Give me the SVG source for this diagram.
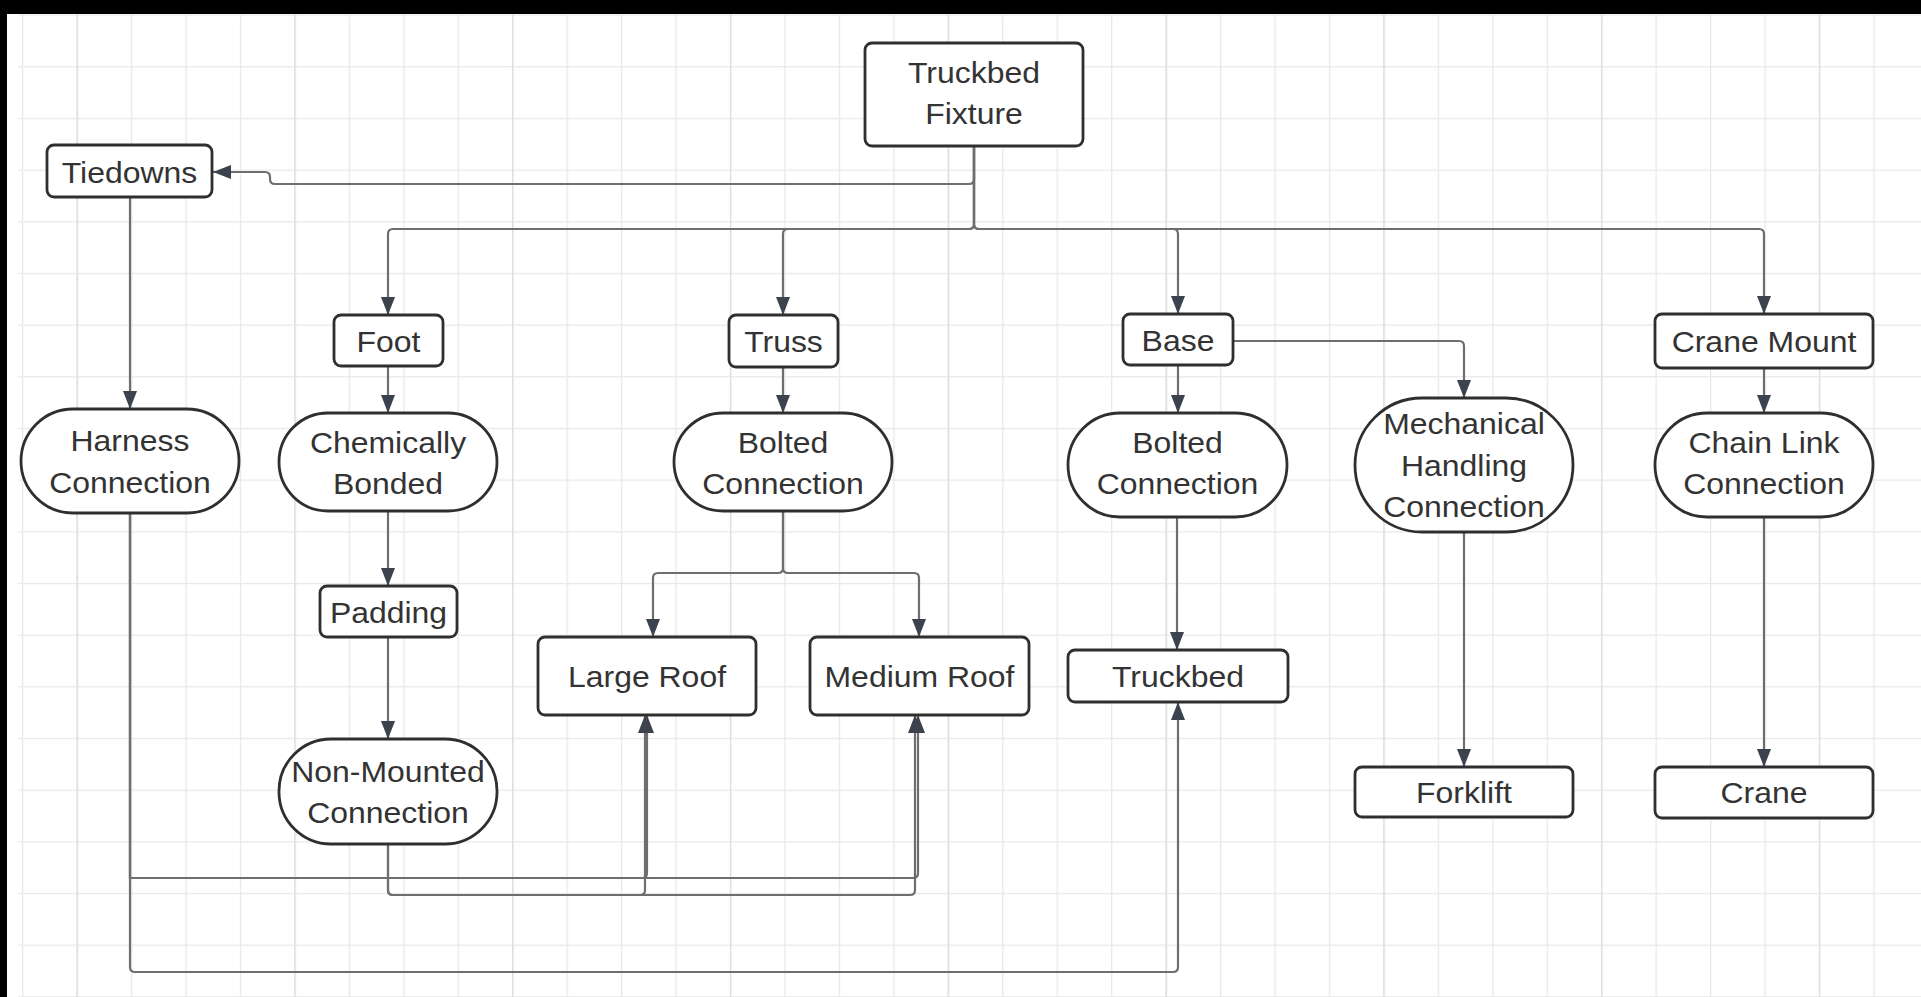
<svg xmlns="http://www.w3.org/2000/svg" width="1921" height="997" viewBox="0 0 1921 997">
<style>
.node{fill:#fff;stroke:#2f2f2f;stroke-width:2.8}
.lbl{font-family:"Liberation Sans",Arial,sans-serif;font-size:30.3px;fill:#333;text-anchor:middle}
.conn{fill:none;stroke:#6e6e6e;stroke-width:2.2}
</style>
<defs>
<pattern id="grid" patternUnits="userSpaceOnUse" x="76.5" y="14.5" width="54.45" height="51.67">
<path d="M0.5,0 V51.67 M0,0.5 H54.45" fill="none" stroke="#e8e8e8" stroke-width="1.6"/>
</pattern>
<pattern id="gridmajor" patternUnits="userSpaceOnUse" x="76.5" y="0" width="217.8" height="997">
<path d="M0.5,0 V997" fill="none" stroke="#dedede" stroke-width="1.6"/>
</pattern>
<marker id="arr" markerUnits="userSpaceOnUse" markerWidth="20" markerHeight="14" refX="18" refY="7" orient="auto">
<path d="M0,0 L18,7 L0,14 Z" fill="#3c424e"/>
</marker>
</defs>
<rect x="0" y="0" width="1921" height="997" fill="#fff"/>
<rect x="18" y="14" width="1903" height="983" fill="url(#grid)"/>
<rect x="18" y="14" width="1903" height="983" fill="url(#gridmajor)"/>
<rect x="0" y="0" width="1921" height="14" fill="#000"/>
<rect x="0" y="0" width="7" height="997" fill="#000"/>

<g id="connectors">
<path class="conn" marker-end="url(#arr)" d="M974,146 V179 Q974,184 969,184 H275 Q270,184 270,179 V177 Q270,172 265,172 H213"/>
<path class="conn" marker-end="url(#arr)" d="M974,146 V224 Q974,229 969,229 H393 Q388,229 388,234 V315"/>
<path class="conn" marker-end="url(#arr)" d="M974,146 V224 Q974,229 969,229 H788 Q783,229 783,234 V315"/>
<path class="conn" marker-end="url(#arr)" d="M974,146 V224 Q974,229 979,229 H1173 Q1178,229 1178,234 V314"/>
<path class="conn" marker-end="url(#arr)" d="M974,146 V224 Q974,229 979,229 H1759 Q1764,229 1764,234 V314"/>
<path class="conn" marker-end="url(#arr)" d="M130,197 V409"/>
<path class="conn" marker-end="url(#arr)" d="M388,366 V413"/>
<path class="conn" marker-end="url(#arr)" d="M783,367 V413"/>
<path class="conn" marker-end="url(#arr)" d="M1178,365 V413"/>
<path class="conn" marker-end="url(#arr)" d="M1233,341 H1459 Q1464,341 1464,346 V398"/>
<path class="conn" marker-end="url(#arr)" d="M1764,368 V413"/>
<path class="conn" marker-end="url(#arr)" d="M388,511 V586"/>
<path class="conn" marker-end="url(#arr)" d="M388,637 V739"/>
<path class="conn" marker-end="url(#arr)" d="M783,511 V568 Q783,573 778,573 H658 Q653,573 653,578 V637"/>
<path class="conn" marker-end="url(#arr)" d="M783,511 V568 Q783,573 788,573 H914 Q919,573 919,578 V637"/>
<path class="conn" marker-end="url(#arr)" d="M1177,517 V650"/>
<path class="conn" marker-end="url(#arr)" d="M1464,532 V767"/>
<path class="conn" marker-end="url(#arr)" d="M1764,517 V767"/>
<path class="conn" marker-end="url(#arr)" d="M130,514 V878 H642 Q647,878 647,873 V715"/>
<path class="conn" marker-end="url(#arr)" d="M130,514 V878 H913 Q918,878 918,873 V715"/>
<path class="conn" marker-end="url(#arr)" d="M130,514 V967 Q130,972 135,972 H1173 Q1178,972 1178,967 V702"/>
<path class="conn" marker-end="url(#arr)" d="M388,844 V890 Q388,895 393,895 H640 Q645,895 645,890 V715"/>
<path class="conn" marker-end="url(#arr)" d="M388,844 V890 Q388,895 393,895 H910 Q915,895 915,890 V715"/>
</g>

<g id="fixture"><rect class="node" x="865" y="43" width="218" height="103" rx="7"/>
<text class="lbl" transform="translate(974,0) scale(1.055 1)" x="0" y="83">Truckbed</text>
<text class="lbl" transform="translate(974,0) scale(1.055 1)" x="0" y="124">Fixture</text></g>

<g id="tiedowns"><rect class="node" x="47" y="145" width="165" height="52" rx="7"/>
<text class="lbl" transform="translate(129.5,0) scale(1.055 1)" x="0" y="183">Tiedowns</text></g>

<g id="foot"><rect class="node" x="334" y="315" width="109" height="51" rx="7"/>
<text class="lbl" transform="translate(388.5,0) scale(1.055 1)" x="0" y="352">Foot</text></g>

<g id="truss"><rect class="node" x="729" y="315" width="109" height="52" rx="7"/>
<text class="lbl" transform="translate(783.5,0) scale(1.055 1)" x="0" y="352">Truss</text></g>

<g id="base"><rect class="node" x="1123" y="314" width="110" height="51" rx="7"/>
<text class="lbl" transform="translate(1178,0) scale(1.055 1)" x="0" y="351">Base</text></g>

<g id="crane-mount"><rect class="node" x="1655" y="314" width="218" height="54" rx="7"/>
<text class="lbl" transform="translate(1764,0) scale(1.055 1)" x="0" y="352">Crane Mount</text></g>

<g id="harness"><rect class="node" x="21" y="409" width="218" height="104" rx="52"/>
<text class="lbl" transform="translate(130,0) scale(1.055 1)" x="0" y="451">Harness</text>
<text class="lbl" transform="translate(130,0) scale(1.055 1)" x="0" y="493">Connection</text></g>

<g id="chemically-bonded"><rect class="node" x="279" y="413" width="218" height="98" rx="49"/>
<text class="lbl" transform="translate(388,0) scale(1.055 1)" x="0" y="453">Chemically</text>
<text class="lbl" transform="translate(388,0) scale(1.055 1)" x="0" y="494">Bonded</text></g>

<g id="bolted-truss"><rect class="node" x="674" y="413" width="218" height="98" rx="49"/>
<text class="lbl" transform="translate(783,0) scale(1.055 1)" x="0" y="453">Bolted</text>
<text class="lbl" transform="translate(783,0) scale(1.055 1)" x="0" y="494">Connection</text></g>

<g id="bolted-base"><rect class="node" x="1068" y="413" width="219" height="104" rx="52"/>
<text class="lbl" transform="translate(1177.5,0) scale(1.055 1)" x="0" y="453">Bolted</text>
<text class="lbl" transform="translate(1177.5,0) scale(1.055 1)" x="0" y="494">Connection</text></g>

<g id="mechanical"><rect class="node" x="1355" y="398" width="218" height="134" rx="67"/>
<text class="lbl" transform="translate(1464,0) scale(1.055 1)" x="0" y="434">Mechanical</text>
<text class="lbl" transform="translate(1464,0) scale(1.055 1)" x="0" y="476">Handling</text>
<text class="lbl" transform="translate(1464,0) scale(1.055 1)" x="0" y="517">Connection</text></g>

<g id="chain-link"><rect class="node" x="1655" y="413" width="218" height="104" rx="52"/>
<text class="lbl" transform="translate(1764,0) scale(1.055 1)" x="0" y="453">Chain Link</text>
<text class="lbl" transform="translate(1764,0) scale(1.055 1)" x="0" y="494">Connection</text></g>

<g id="padding"><rect class="node" x="320" y="586" width="137" height="51" rx="7"/>
<text class="lbl" transform="translate(388.5,0) scale(1.055 1)" x="0" y="623">Padding</text></g>

<g id="large-roof"><rect class="node" x="538" y="637" width="218" height="78" rx="7"/>
<text class="lbl" transform="translate(647,0) scale(1.055 1)" x="0" y="687">Large Roof</text></g>

<g id="medium-roof"><rect class="node" x="810" y="637" width="219" height="78" rx="7"/>
<text class="lbl" transform="translate(919.5,0) scale(1.055 1)" x="0" y="687">Medium Roof</text></g>

<g id="truckbed"><rect class="node" x="1068" y="650" width="220" height="52" rx="7"/>
<text class="lbl" transform="translate(1178,0) scale(1.055 1)" x="0" y="687">Truckbed</text></g>

<g id="non-mounted"><rect class="node" x="279" y="739" width="218" height="105" rx="52"/>
<text class="lbl" transform="translate(388,0) scale(1.055 1)" x="0" y="782">Non-Mounted</text>
<text class="lbl" transform="translate(388,0) scale(1.055 1)" x="0" y="823">Connection</text></g>

<g id="forklift"><rect class="node" x="1355" y="767" width="218" height="50" rx="7"/>
<text class="lbl" transform="translate(1464,0) scale(1.055 1)" x="0" y="803">Forklift</text></g>

<g id="crane"><rect class="node" x="1655" y="767" width="218" height="51" rx="7"/>
<text class="lbl" transform="translate(1764,0) scale(1.055 1)" x="0" y="803">Crane</text></g>
</svg>
